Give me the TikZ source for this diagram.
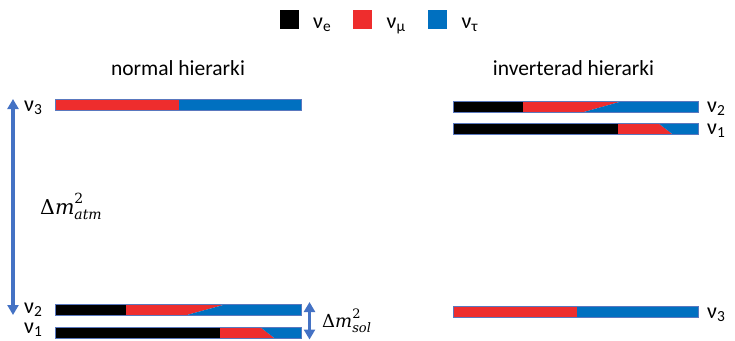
\documentclass[tikz,border=0pt]{standalone}
\usepackage{fontspec}
\setmainfont{Carlito}
\newfontfamily\dvserif{DejaVu Serif}
\usetikzlibrary{arrows.meta}
\definecolor{nred}{RGB}{238,45,45}
\definecolor{nblue}{RGB}{0,112,192}
\definecolor{arrblue}{RGB}{68,114,196}
\definecolor{edgeblue}{RGB}{90,120,190}
\newcommand\nulab[1]{ν\raisebox{-0.32ex}{\scalebox{0.7}{#1}}}
% Delta m^2_{sub} set as text, size #1, script size #2
\newcommand\dmsq[3]{{\dvserif\fontsize{#1}{#1}\selectfont Δ\textit{m}\rlap{\raisebox{0.5em}{\fontsize{#2}{#2}\selectfont 2}}\raisebox{-0.28em}{\fontsize{#2}{#2}\selectfont\itshape #3}}}
\tikzset{
  barbox/.style={draw=edgeblue, line width=0.7pt, minimum width=246pt, minimum height=11.5pt, inner sep=0pt, outer sep=0pt, anchor=north west},
  nutext/.style={font=\fontsize{22}{25}\selectfont, inner sep=0pt, anchor=base west},
  title/.style={font=\fontsize{21.5}{25}\selectfont, inner sep=0pt, anchor=base},
  legbox/.style={minimum width=19pt, minimum height=19pt, inner sep=0pt, anchor=north west},
  dblarrow/.style={draw=arrblue, line width=3.4pt, {Triangle[width=11pt,length=10pt]}-{Triangle[width=11pt,length=10pt]}}
}
\begin{document}
\begin{tikzpicture}[x=1pt,y=-1pt]
\useasboundingbox (0,0) rectangle (735,340);

% legend
\node[legbox, fill=black] (lk) at (280,10) {};
\node[nutext] (le) at (313,28.5) {\nulab{e}};
\node[legbox, fill=nred] (lr) at (353,10) {};
\node[nutext] (lm) at (386.5,28.5) {\nulab{μ}};
\node[legbox, fill=nblue] (lb) at (428,10) {};
\node[nutext] (lt) at (461.5,28.5) {\nulab{τ}};

% titles
\node[title] (tn) at (178,75) {normal hierarki};
\node[title] (ti) at (573.5,75) {inverterad hierarki};

% ---- normal hierarchy ----
% nu3
\fill[nred] (55,99) rectangle (179,110.5);
\fill[nblue] (179,99) rectangle (301,110.5);
\node[barbox] (n3) at (55,99) {};
% nu2
\fill[black] (55,304) rectangle (126,315.5);
\fill[nred] (126,304) -- (227,304) -- (185,315.5) -- (126,315.5) -- cycle;
\fill[nblue] (227,304) -- (301,304) -- (301,315.5) -- (185,315.5) -- cycle;
\node[barbox] (n2) at (55,304) {};
% nu1
\fill[black] (55,327) rectangle (220,338.5);
\fill[nred] (220,327) -- (260,327) -- (275,338.5) -- (220,338.5) -- cycle;
\fill[nblue] (260,327) -- (301,327) -- (301,338.5) -- (275,338.5) -- cycle;
\node[barbox] (n1) at (55,327) {};

\node[nutext] (ln3) at (24,111.5) {\nulab{3}};
\node[nutext] (ln2) at (24,313.5) {\nulab{2}};
\node[nutext] (ln1) at (24,333.5) {\nulab{1}};

\coordinate (atmtop) at (13,99);
\coordinate (atmbot) at (13,315);
\draw[dblarrow] (atmtop) -- (atmbot);
\node[inner sep=0pt, anchor=base west] (datm) at (40,214) {\dmsq{20.5}{14}{atm}};

\coordinate (soltop) at (309.5,302);
\coordinate (solbot) at (309.5,339.5);
\draw[dblarrow] (soltop) -- (solbot);
\node[inner sep=0pt, anchor=base west] (dsol) at (322,327) {\dmsq{18}{13}{sol}};

% ---- inverted hierarchy ----
% nu2
\fill[black] (453,101) rectangle (523,112.5);
\fill[nred] (523,101) -- (623,101) -- (582,112.5) -- (523,112.5) -- cycle;
\fill[nblue] (623,101) -- (698,101) -- (698,112.5) -- (582,112.5) -- cycle;
\node[barbox, minimum width=245pt] (i2) at (453,101) {};
% nu1
\fill[black] (453,123) rectangle (618,134.5);
\fill[nred] (618,123) -- (658,123) -- (673,134.5) -- (618,134.5) -- cycle;
\fill[nblue] (658,123) -- (698,123) -- (698,134.5) -- (673,134.5) -- cycle;
\node[barbox, minimum width=245pt] (i1) at (453,123) {};
% nu3
\fill[nred] (453,306) rectangle (577,317.5);
\fill[nblue] (577,306) rectangle (698,317.5);
\node[barbox, minimum width=245pt] (i3) at (453,306) {};

\node[nutext] (li2) at (707,112) {\nulab{2}};
\node[nutext] (li1) at (707,134) {\nulab{1}};
\node[nutext] (li3) at (707,318) {\nulab{3}};
\end{tikzpicture}
\end{document}
